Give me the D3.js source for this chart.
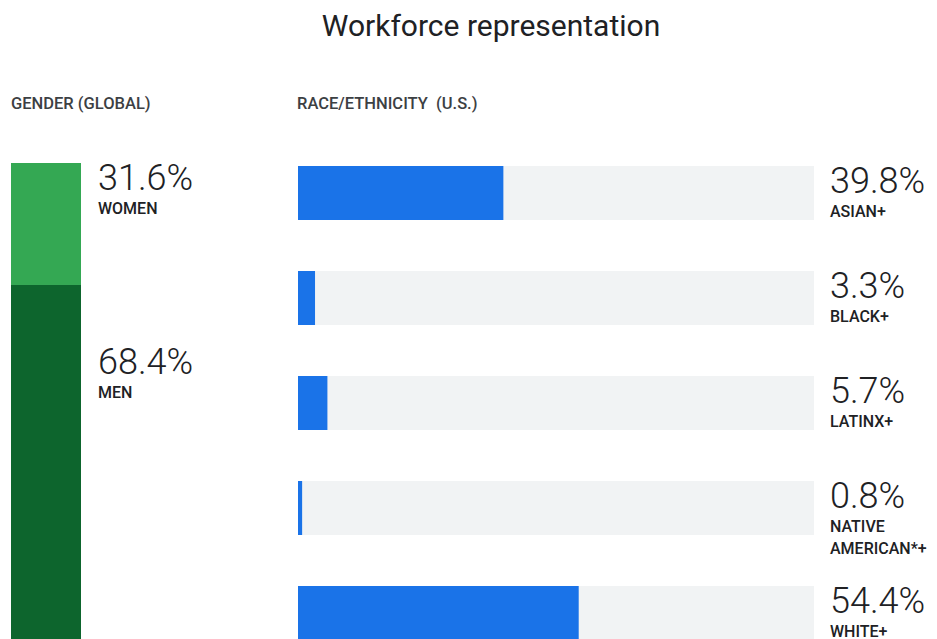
<!DOCTYPE html>
<html><head><meta charset="utf-8">
<script src="https://cdn.jsdelivr.net/npm/d3@7/dist/d3.min.js"></script>
<style>
html,body{margin:0;padding:0;background:#fff;overflow:hidden;}
svg{display:block;font-family:Roboto,"Noto Sans",sans-serif;}
</style></head>
<body>
<svg id="chart" width="937" height="639"></svg>
<script>
const title = "Workforce representation";
const genderTitle = "GENDER (GLOBAL)";
const raceTitle = "RACE/ETHNICITY  (U.S.)";
const genderCategories = ["WOMEN", "MEN"];
const genderValues = [31.6, 68.4];
const raceCategories = [["ASIAN+"], ["BLACK+"], ["LATINX+"], ["NATIVE", "AMERICAN*+"], ["WHITE+"]];
const raceValues = [39.8, 3.3, 5.7, 0.8, 54.4];

const svg = d3.select("#chart");
const W = 937, H = 639;
const textColor = "#202124";
const smallSize = 16;

svg.append("text").attr("x", 491).attr("y", 36).attr("text-anchor", "middle")
  .attr("font-size", 30).attr("fill", textColor).text(title);

svg.append("text").attr("x", 11).attr("y", 109).attr("font-size", 16.5)
  .attr("font-weight", 500).attr("fill", "#3c4043").text(genderTitle);
svg.append("text").attr("x", 297).attr("y", 109).attr("font-size", 16.5)
  .attr("font-weight", 500).attr("fill", "#3c4043").attr("xml:space", "preserve").text(raceTitle);

// Gender stacked bar
const gTop = 163;
const y = d3.scaleLinear().domain([0, 100]).range([gTop, gTop + 386]);
const stack = [];
let acc = 0;
genderValues.forEach((v, i) => { stack.push({ cat: genderCategories[i], v, y0: acc, y1: acc + v }); acc += v; });
const gColors = ["#34a853", "#0d652d"];
const gg = svg.append("g");
gg.selectAll("rect").data(stack).join("rect")
  .attr("x", 11).attr("width", 70)
  .attr("y", d => y(d.y0))
  .attr("height", (d, i) => i === stack.length - 1 ? H + 20 - y(d.y0) : y(d.y1) - y(d.y0))
  .attr("fill", (d, i) => gColors[i]);
const labelOffsets = [0, 62];
const gl = gg.selectAll("g.lab").data(stack).join("g").attr("class", "lab")
  .attr("transform", (d, i) => `translate(98,${y(d.y0) + labelOffsets[i]})`);
gl.append("text").attr("y", 27).attr("font-size", 36).attr("font-weight", 300).attr("fill", textColor)
  .text(d => d.v.toFixed(1) + "%");
gl.append("text").attr("y", 51).attr("font-size", smallSize).attr("font-weight", 500).attr("fill", textColor)
  .text(d => d.cat);

// Race bars
const x = d3.scaleLinear().domain([0, 100]).range([298, 814]);
const yb = d3.scaleBand().domain(d3.range(raceValues.length)).range([166, 640])
  .paddingInner(51 / 105).paddingOuter(0).align(0);
const rows = svg.append("g").selectAll("g").data(raceValues).join("g")
  .attr("transform", (d, i) => `translate(0,${yb(i)})`);
rows.append("rect").attr("x", x(0)).attr("width", x(100) - x(0)).attr("height", yb.bandwidth()).attr("fill", "#f1f3f4");
rows.append("rect").attr("x", x(0)).attr("width", d => x(d) - x(0)).attr("height", yb.bandwidth()).attr("fill", "#1a73e8");
rows.append("text").attr("x", 830).attr("y", 27).attr("font-size", 36).attr("font-weight", 300).attr("fill", textColor)
  .text(d => d.toFixed(1) + "%");
rows.each(function (d, i) {
  const t = d3.select(this).append("text").attr("x", 830).attr("y", 50.5).attr("font-size", smallSize)
    .attr("font-weight", 500).attr("fill", textColor);
  raceCategories[i].forEach((line, j) => {
    t.append("tspan").attr("x", 830).attr("dy", j === 0 ? 0 : 22).text(line);
  });
});
</script>
</body></html>
